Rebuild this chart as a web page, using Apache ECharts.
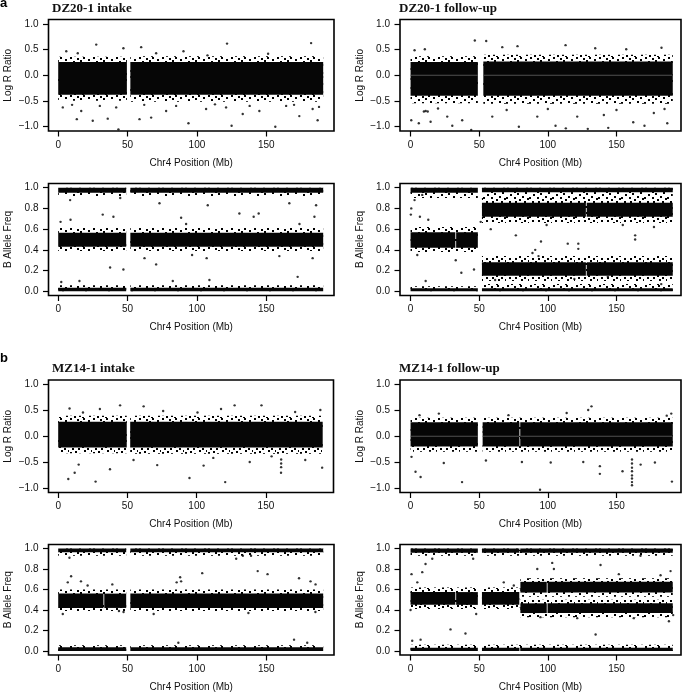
<!DOCTYPE html>
<html><head><meta charset="utf-8">
<script src="https://cdn.jsdelivr.net/npm/echarts@6/dist/echarts.min.js"></script>
<style>html,body{margin:0;padding:0;background:#fff}#c{width:685px;height:693px}</style>
</head><body><div id="c"></div>
<script>
// ---------- tick labels ----------
const xTicks = [0, 50, 100, 150];
const lrrTicks = [-1, -0.5, 0, 0.5, 1];
const bafTicks = [0, 0.2, 0.4, 0.6, 0.8, 1];
const panelTitles = ['DZ20-1 intake', 'DZ20-1 follow-up', 'MZ14-1 intake', 'MZ14-1 follow-up'];
const xName = 'Chr4 Position (Mb)';
const lrrName = 'Log R Ratio';
const bafName = 'B Allele Freq';

// ---------- bands: [xStart, xEnd, yLow, yHigh] ----------
// Panel 1: DZ20-1 intake, Log R Ratio
const p1Core = [[0, 49.5, -0.38, 0.26], [52, 191, -0.38, 0.26]];
const p1Fringe = [[0, 49.5, -0.5, 0.36], [52, 191, -0.52, 0.37]];
const p1Out = [[27.4,0.6],[121.7,0.62],[182.3,0.63],[47,0.53],[59.8,0.55],[90.3,0.47],[14.1,0.43],[5.8,0.47],[151.3,0.42],[70.6,0.43],[107.6,0.39],
  [43.4,-1.06],[156.5,-1.01],[125,-0.99],[93.9,-0.94],[13.4,-0.86],[35.7,-0.85],[187,-0.88],[58.6,-0.86],[67,-0.83],[24.9,-0.89],[133,-0.76],[173.8,-0.8],
  [3.3,-0.63],[77.8,-0.7],[106.6,-0.66],[145,-0.7],[16.6,-0.7],[183.4,-0.66],[41.8,-0.63],[164.3,-0.6],[121,-0.63],[10,-0.58],[30,-0.6],[62,-0.58],[85,-0.6],[113,-0.57],[138,-0.6],[170,-0.58],[188,-0.62]];

// Panel 2: DZ20-1 follow-up, Log R Ratio
const p2Core = [[0, 49, -0.4, 0.26], [53, 191, -0.4, 0.27]];
const p2Fringe = [[0, 49, -0.55, 0.37], [53, 191, -0.56, 0.4]];
const p2Zero = [[0, 49, 0], [53, 191, 0]];
const p2Out = [[46.8,0.68],[55.1,0.67],[66.8,0.55],[77.9,0.57],[112.9,0.59],[134.5,0.53],[182.8,0.54],[10.4,0.51],[2.9,0.49],[157.1,0.51],
  [44.2,-1.07],[113.1,-1.04],[129.1,-1.05],[144,-1.03],[170.4,-0.99],[105.6,-0.99],[78.9,-1.01],[30.4,-0.99],[6,-0.94],[14.6,-0.91],[187,-0.94],[162.2,-0.92],
  [0.5,-0.88],[37.6,-0.88],[59.5,-0.81],[92.3,-0.81],[121.4,-0.81],[140.8,-0.78],[177.2,-0.74],[9.7,-0.71],[11,-0.7],[12.5,-0.71],[26.7,-0.81],[20,-0.65],[70,-0.68],[100,-0.66],[150,-0.68],[185,-0.66]];

// Panel 3: DZ20-1 intake, B Allele Freq
const p3Core = [[0,49,0.95,1.0],[52,191,0.95,1.0],[0,49,0.43,0.565],[52,191,0.43,0.565],[0,49,0,0.035],[52,191,0,0.035]];
const p3Fringe = [[0,49,0.92,1.0],[52,191,0.92,1.0],[0,49,0.39,0.61],[52,191,0.39,0.61],[0,49,0,0.06],[52,191,0,0.06]];
const p3Out = [[37.4,0.23],[47,0.21],[1.7,0.67],[8.9,0.69],[32.1,0.74],[39.8,0.72],[88.6,0.71],[130.6,0.75],[144.5,0.75],[140.9,0.72],[172.6,0.14],[109,0.11],
  [70.6,0.26],[62.2,0.32],[107,0.32],[183.4,0.32],[73,0.85],[107.8,0.83],[185.9,0.83],[8.6,0.88],[44.7,0.9],[166.6,0.85],[159.4,0.34],[96.5,0.35],[173.9,0.65],
  [92.2,0.65],[184.7,0.72],[2.2,0.09],[15.3,0.1],[82.6,0.1]];

// Panel 4: DZ20-1 follow-up, B Allele Freq
const p4Core = [[0,49,0.95,1.0],[52,191,0.955,1.0],[0,32.6,0.42,0.57],[33.2,49,0.42,0.57],
  [52,127.7,0.72,0.855],[128.3,191,0.72,0.855],[52,127.7,0.15,0.28],[128.3,191,0.15,0.28],[0,49,0,0.03],[52,191,0,0.03]];
const p4Fringe = [[0,49,0.9,1.0],[52,191,0.89,1.0],[0,49,0.38,0.62],[52,191,0.66,0.9],[52,191,0.1,0.34],[0,49,0,0.05],[52,191,0,0.07]];
const p4Out = [[0.2,0.74],[6.8,0.72],[12.9,0.69],[51.1,0.67],[32.9,0.3],[37,0.18],[46.2,0.21],[4.9,0.35],[11,0.1],[95,0.48],[114.5,0.46],[122.2,0.46],[122.2,0.41],
  [163.6,0.54],[163.6,0.5],[90.8,0.4],[88.8,0.37],[93.2,0.34],[58.4,0.6],[76.7,0.54],[99.1,0.64],[154.6,0.64],[177.3,0.62],[143.7,0.14],[182.6,0.07],[61.6,0.11],
  [119.3,0.12],[8.5,0.93],[2.9,0.88],[0.5,0.8]];

// Panel 5: MZ14-1 intake, Log R Ratio
const p5Core = [[0,49.5,-0.22,0.28],[52,191,-0.22,0.28]];
const p5Fringe = [[0,49.5,-0.33,0.4],[52,191,-0.34,0.4]];
const p5Out = [[7.3,-0.83],[27,-0.88],[11.9,-0.71],[94.8,-0.81],[120.6,-0.89],[160.9,-0.71],[190.6,-0.61],[37.4,-0.64],[14.8,-0.55],[71.5,-0.56],[105,-0.57],
  [138.3,-0.5],[154.1,-0.39],[161,-0.53],[54.4,-0.46],[178.4,-0.46],[146.8,0.6],[61.7,0.58],[44.7,0.6],[8.2,0.54],[127.4,0.6],[75.8,0.49],[100.6,0.46],
  [117.6,0.53],[171.1,0.47],[189.3,0.51],[17.9,0.46],[30.1,0.53],[161,-0.45],[161,-0.6],[112,-0.42]];

// Panel 6: MZ14-1 follow-up, Log R Ratio
const p6Core = [[0,49,-0.2,0.27],[52.5,79.3,-0.2,0.27],[79.9,191,-0.2,0.27]];
const p6Fringe = [[0,49,-0.3,0.36],[52.5,191,-0.3,0.36]];
const p6Zero = [[0,49,0],[52.5,79.3,0],[79.9,191,0]];
const p6Out = [[94.3,-1.04],[161.3,-0.95],[161.3,-0.89],[161.3,-0.82],[161.3,-0.76],[161.3,-0.68],[161.3,-0.61],[161.3,-0.53],[161.3,-0.45],[190.4,-0.88],
  [37.5,-0.89],[7.3,-0.79],[3.6,-0.69],[137.9,-0.73],[137.9,-0.58],[154.4,-0.68],[167.6,-0.55],[178,-0.51],[125.8,-0.5],[102.1,-0.51],[0.7,-0.4],[24.2,-0.52],
  [54.9,-0.47],[81.1,-0.5],[131.8,0.58],[129.4,0.51],[113.7,0.45],[20.6,0.44],[6.5,0.41],[189.9,0.44],[71.3,0.41],[186.6,0.4]];

// Panel 7: MZ14-1 intake, B Allele Freq
const p7Core = [[0,49,0.965,1.0],[52,191,0.965,1.0],[0,32.6,0.42,0.56],[33.2,49,0.42,0.56],[52,191,0.42,0.56],[0,49,0,0.035],[52,191,0,0.035]];
const p7Fringe = [[0,49,0.93,1.0],[52,191,0.93,1.0],[0,49,0.39,0.6],[52,191,0.39,0.6],[0,49,0,0.055],[52,191,0,0.055]];
const p7Out = [[9.3,0.73],[6.9,0.67],[87.9,0.72],[88.6,0.68],[85.4,0.67],[103.8,0.76],[143.8,0.78],[150.9,0.75],[173.6,0.71],[181.9,0.68],[185.5,0.65],
  [39,0.65],[16.4,0.68],[21.2,0.64],[3.3,0.36],[47.1,0.38],[43.8,0.39],[68.8,0.36],[137.1,0.37],[185.4,0.38],[170,0.11],[8.1,0.91],[128.3,0.9],[133.1,0.93],
  [139,0.93],[86.6,0.08],[179.5,0.08]];

// Panel 8: MZ14-1 follow-up, B Allele Freq
const p8Core = [[0,49,0.96,1.0],[52,79.3,0.96,1.0],[79.9,191,0.96,1.0],[0,32.6,0.45,0.575],[33.2,49,0.45,0.575],[52,79.2,0.45,0.575],
  [80,99.2,0.57,0.675],[99.8,191,0.57,0.675],[80,99.2,0.37,0.465],[99.8,191,0.37,0.465],[0,49,0,0.03],[52,79.3,0,0.03],[79.9,191,0,0.03]];
const p8Fringe = [[0,49,0.93,1.0],[52,191,0.93,1.0],[0,49,0.41,0.62],[52,79.2,0.41,0.62],[80,191,0.53,0.71],[80,191,0.33,0.5],[0,49,0,0.06],[52,191,0,0.06]];
const p8Out = [[0.7,0.75],[4.9,0.67],[8.5,0.77],[10.9,0.85],[0,0.4],[47.8,0.36],[29.1,0.21],[40,0.17],[75.2,0.64],[67.9,0.67],[92.3,0.8],[104.4,0.8],
  [138.4,0.84],[151.7,0.75],[189.4,0.78],[182.1,0.74],[134.8,0.16],[188.2,0.29],[191.3,0.35],[121.4,0.32],[162.6,0.32],[94.6,0.33],[103.2,0.86],[45.6,0.9],
  [15.8,0.9],[167.5,0.93],[1.2,0.1],[7.3,0.11]];

// ---------- layout & style ----------
const FONT = 'Liberation Sans, Arial, sans-serif';
const SERIF = 'Liberation Serif, Times New Roman, serif';
const grids = [
  {left: 48.5, top: 19.5, width: 285.5, height: 111.5},
  {left: 400, top: 19.5, width: 281, height: 111.5},
  {left: 48.5, top: 183.5, width: 285.5, height: 112},
  {left: 400, top: 183.5, width: 281, height: 112},
  {left: 48.5, top: 380, width: 285, height: 112.5},
  {left: 400, top: 380, width: 281, height: 112.5},
  {left: 48.5, top: 544.5, width: 285.5, height: 112},
  {left: 400, top: 544.5, width: 281, height: 112}
];
const panels = [
  {kind: 'lrr', core: p1Core, fringe: p1Fringe, out: p1Out, zero: null, xr: [-7, 198.8]},
  {kind: 'lrr', core: p2Core, fringe: p2Fringe, out: p2Out, zero: p2Zero, xr: [-7.7, 197]},
  {kind: 'baf', core: p3Core, fringe: p3Fringe, out: p3Out, zero: null, xr: [-7, 198.8]},
  {kind: 'baf', core: p4Core, fringe: p4Fringe, out: p4Out, zero: null, xr: [-7.7, 197]},
  {kind: 'lrr', core: p5Core, fringe: p5Fringe, out: p5Out, zero: null, xr: [-7, 198.8]},
  {kind: 'lrr', core: p6Core, fringe: p6Fringe, out: p6Out, zero: p6Zero, xr: [-7.7, 197]},
  {kind: 'baf', core: p7Core, fringe: p7Fringe, out: p7Out, zero: null, xr: [-7, 198.8]},
  {kind: 'baf', core: p8Core, fringe: p8Fringe, out: p8Out, zero: null, xr: [-7.7, 197]}
];

// speckle texture for the ragged cloud edges (pure styling)
const speckleTile = (function () {
  const c = document.createElement('canvas');
  c.width = 23; c.height = 19;
  const ctx = c.getContext('2d');
  ctx.fillStyle = '#000';
  [[1,0],[8,1],[14,0],[19,2],[4,4],[11,3],[16,6],[0,7],[8,7],[21,8],[13,9],[18,11],[3,11],[6,14],[15,13],[10,16],[1,15],[20,16],
   [5,17],[13,18],[9,11],[22,13]].forEach(d => ctx.fillRect(d[0], d[1], 2, 2));
  return c;
})();
const speckleFill = {image: speckleTile, repeat: 'repeat'};

function rectRender(fill) {
  return function (params, api) {
    const a = api.coord([api.value(0), api.value(3)]);
    const b = api.coord([api.value(1), api.value(2)]);
    return {type: 'rect', shape: {x: a[0], y: a[1], width: b[0] - a[0], height: b[1] - a[1]}, style: {fill: fill}};
  };
}
function zeroRender(params, api) {
  const a = api.coord([api.value(0), api.value(2)]);
  const b = api.coord([api.value(1), api.value(2)]);
  return {type: 'line', shape: {x1: a[0], y1: a[1], x2: b[0], y2: b[1]}, style: {stroke: '#5a5a5a', lineWidth: 0.9}};
}
const fmtY = v => (v < 0 ? '\u2212' + Math.abs(v).toFixed(1) : v.toFixed(1));

const option = {
  animation: false,
  backgroundColor: '#fff',
  title: [
    {text: 'a', left: 0, top: -3, textStyle: {fontFamily: FONT, fontWeight: 'bold', fontSize: 13, color: '#000'}},
    {text: 'b', left: 0, top: 352, textStyle: {fontFamily: FONT, fontWeight: 'bold', fontSize: 13, color: '#000'}},
    {text: panelTitles[0], left: 52, top: 2, textStyle: {fontFamily: SERIF, fontWeight: 'bold', fontSize: 13, color: '#111'}},
    {text: panelTitles[1], left: 399, top: 2, textStyle: {fontFamily: SERIF, fontWeight: 'bold', fontSize: 13, color: '#111'}},
    {text: panelTitles[2], left: 52, top: 362, textStyle: {fontFamily: SERIF, fontWeight: 'bold', fontSize: 13, color: '#111'}},
    {text: panelTitles[3], left: 399, top: 362, textStyle: {fontFamily: SERIF, fontWeight: 'bold', fontSize: 13, color: '#111'}}
  ].map(t => Object.assign({padding: 0}, t)),
  grid: grids.map(g => Object.assign({show: true, borderColor: '#000', borderWidth: 1.6, backgroundColor: 'transparent', containLabel: false}, g)),
  xAxis: panels.map((p, i) => ({
    gridIndex: i, type: 'value', min: p.xr[0], max: p.xr[1], position: 'bottom',
    axisLine: {show: false, onZero: false}, splitLine: {show: false},
    axisTick: {show: true, length: 5.5, customValues: xTicks, lineStyle: {color: '#000', width: 1.2}},
    axisLabel: {customValues: xTicks, fontFamily: FONT, fontSize: 10, color: '#111', margin: 9},
    name: xName, nameLocation: 'middle', nameGap: 27,
    nameTextStyle: {fontFamily: FONT, fontSize: 10, color: '#111'}
  })),
  yAxis: panels.map((p, i) => {
    const ticks = p.kind === 'lrr' ? lrrTicks : bafTicks;
    return {
      gridIndex: i, type: 'value', position: 'left',
      min: p.kind === 'lrr' ? -1.092 : -0.04, max: p.kind === 'lrr' ? 1.092 : 1.04,
      axisLine: {show: false, onZero: false}, splitLine: {show: false},
      axisTick: {show: true, length: 5.5, customValues: ticks, lineStyle: {color: '#000', width: 1.2}},
      axisLabel: {customValues: ticks, formatter: fmtY, fontFamily: FONT, fontSize: 10, color: '#111', margin: 10},
      name: p.kind === 'lrr' ? lrrName : bafName, nameLocation: 'middle', nameGap: 35,
      nameTextStyle: {fontFamily: FONT, fontSize: 10, color: '#111'}
    };
  }),
  series: []
};

panels.forEach((p, i) => {
  option.series.push({type: 'custom', xAxisIndex: i, yAxisIndex: i, data: p.fringe, renderItem: rectRender(speckleFill), silent: true, z: 1});
  option.series.push({type: 'custom', xAxisIndex: i, yAxisIndex: i, data: p.core, renderItem: rectRender('#060606'), silent: true, z: 2});
  if (p.zero) option.series.push({type: 'custom', xAxisIndex: i, yAxisIndex: i, data: p.zero, renderItem: zeroRender, silent: true, z: 3});
  option.series.push({type: 'scatter', xAxisIndex: i, yAxisIndex: i, data: p.out, symbol: 'circle', symbolSize: 2.4, itemStyle: {color: '#000'}, silent: true, z: 4});
});

const chart = echarts.init(document.getElementById('c'), null, {renderer: 'canvas'});
chart.setOption(option);
</script></body></html>
